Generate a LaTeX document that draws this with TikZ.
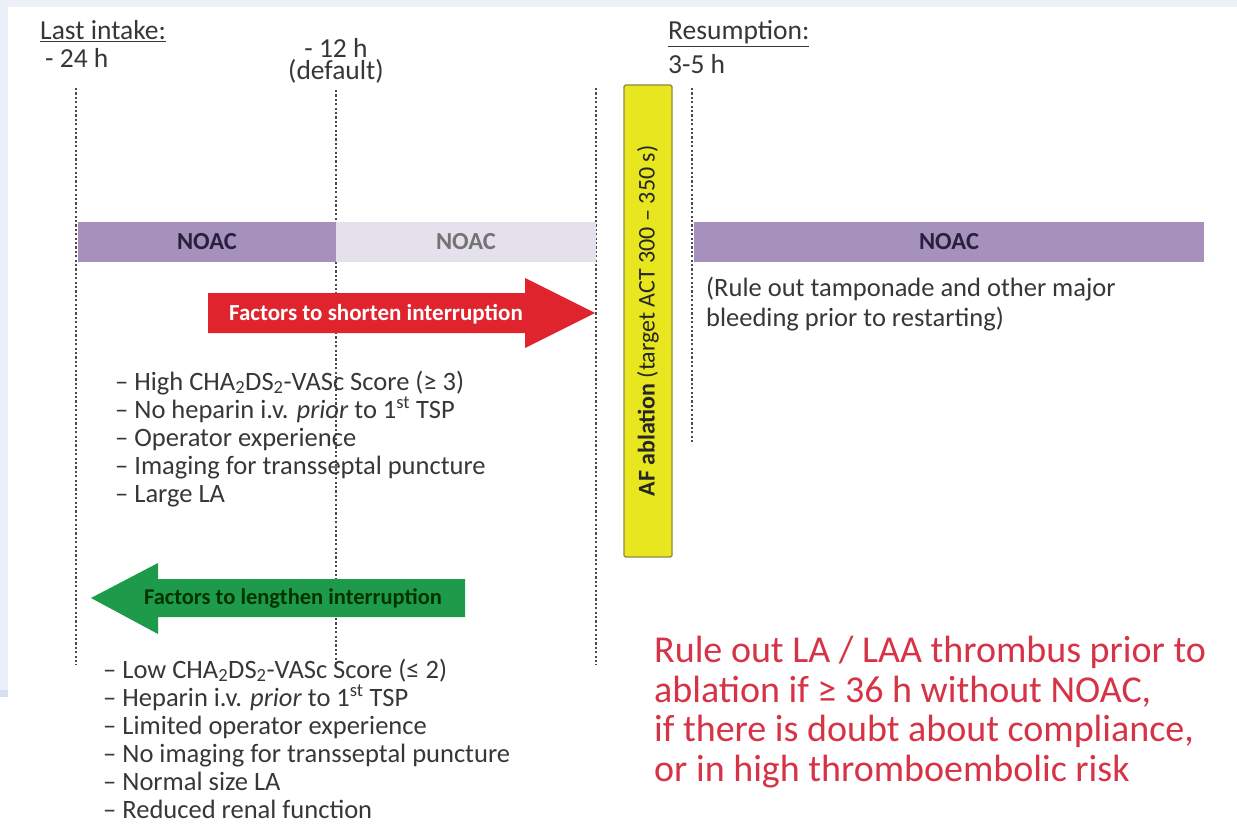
\documentclass[tikz,border=0pt]{standalone}
\usepackage{fontspec}
\setmainfont{Carlito}
\definecolor{txt}{RGB}{55,55,55}
\definecolor{noacdark}{RGB}{165,145,188}
\definecolor{noaclight}{RGB}{228,224,236}
\definecolor{noactxt}{RGB}{40,32,62}
\definecolor{redarr}{RGB}{224,36,46}
\definecolor{greenarr}{RGB}{30,155,74}
\definecolor{yel}{RGB}{232,230,30}
\definecolor{yelborder}{RGB}{140,140,60}
\definecolor{redtxt}{RGB}{214,52,70}
\definecolor{frame}{RGB}{236,240,248}
\definecolor{frame2}{RGB}{218,222,242}
\tikzset{
  vline/.style={draw=txt!90, line width=1.1pt, dash pattern=on 2.2pt off 2.2pt},
  lbl/.style={inner sep=0pt, anchor=base west, text=txt, font=\fontsize{27.5}{30}\selectfont},
  item/.style={inner sep=0pt, anchor=base west, text=txt, font=\fontsize{26.5}{28}\selectfont},
  noacbar/.style={draw=none, inner sep=0pt, minimum height=40pt, font=\bfseries\fontsize{24.5}{26}\selectfont},
}
\begin{document}
\begin{tikzpicture}[x=1pt,y=-1pt]
\useasboundingbox (0,0) rectangle (1237,824);
\fill[white] (0,0) rectangle (1237,824);
% frame
\fill[frame] (0,0) rectangle (1237,7);
\fill[frame] (0,0) rectangle (8,690);
\fill[frame2] (0,690) rectangle (8,697);

% headers
\node[lbl] (last) at (40,40) {\underline{Last intake:}};
\node[lbl] (h24) at (45,68) {- 24 h};
\node[inner sep=0pt, anchor=base, align=center, text=txt, font=\fontsize{27.5}{22}\selectfont] (h12) at (336,80) {- 12 h\\(default)};
\node[lbl] (resum) at (668,40) {\underline{Resumption:}};
\node[lbl] (h35) at (668,74) {3-5 h};

% vertical dotted lines
\coordinate (v1t) at (76,88); \coordinate (v1b) at (76,665);
\coordinate (v2t) at (336,90); \coordinate (v2b) at (336,668);
\coordinate (v3t) at (596,88); \coordinate (v3b) at (596,665);
\coordinate (v4t) at (692,88); \coordinate (v4b) at (692,442);
\draw[vline] (v1t) -- (v1b);
\draw[vline] (v2t) -- (v2b);
\draw[vline] (v3t) -- (v3b);
\draw[vline] (v4t) -- (v4b);

% NOAC bars
\node[noacbar, fill=noacdark, text=noactxt, minimum width=258pt] (noac1) at (207,242) {NOAC};
\node[noacbar, fill=noaclight, text=black!55, minimum width=260pt] (noac2) at (466,242) {NOAC};
\node[noacbar, fill=noacdark, text=noactxt, minimum width=510pt] (noac3) at (949,242) {NOAC};

% AF ablation box
\node[draw=yelborder, fill=yel, line width=1.2pt, rounded corners=1.5pt, minimum width=472pt, minimum height=48pt, inner sep=0pt, rotate=90, text=black!85, font=\fontsize{24}{26}\selectfont] (abl) at (648,321) {\textbf{AF ablation} (target ACT 300 -- 350 s)};

% red arrow
\fill[redarr] (208,293) -- (525,293) -- (525,278) -- (595,313) -- (525,348) -- (525,333) -- (208,333) -- cycle;
\node[inner sep=0pt, text=white, font=\bfseries\fontsize{23}{25}\selectfont] (short) at (376,314) {Factors to shorten interruption};

% green arrow
\fill[greenarr] (465,579) -- (158,579) -- (158,563) -- (91,598) -- (158,634) -- (158,617) -- (465,617) -- cycle;
\node[inner sep=0pt, text=black!80!green, font=\bfseries\fontsize{22.5}{25}\selectfont] (long) at (293,598) {Factors to lengthen interruption};

% rule out tamponade
\node[item] (tamp1) at (706,296) {(Rule out tamponade and other major};
\node[item] (tamp2) at (706,326) {bleeding prior to restarting)};

% list 1
\node[item] (a1) at (115,390) {-- High CHA\textsubscript{2}DS\textsubscript{2}-VASc Score (≥ 3)};
\node[item] (a2) at (115,418) {-- No heparin i.v. \textit{prior} to 1\textsuperscript{st} TSP};
\node[item] (a3) at (115,446) {-- Operator experience};
\node[item] (a4) at (115,474) {-- Imaging for transseptal puncture};
\node[item] (a5) at (115,502) {-- Large LA};

% list 2
\node[item] (b1) at (103,678) {-- Low CHA\textsubscript{2}DS\textsubscript{2}-VASc Score (≤ 2)};
\node[item] (b2) at (103,706) {-- Heparin i.v. \textit{prior} to 1\textsuperscript{st} TSP};
\node[item] (b3) at (103,734) {-- Limited operator experience};
\node[item] (b4) at (103,762) {-- No imaging for transseptal puncture};
\node[item] (b5) at (103,790) {-- Normal size LA};
\node[item] (b6) at (103,818) {-- Reduced renal function};

% red note
\node[inner sep=0pt, anchor=north west, align=left, text=redtxt, font=\fontsize{38}{39.5}\selectfont] (note) at (654,636) {Rule out LA / LAA thrombus prior to\\ablation if ≥ 36 h without NOAC,\\if there is doubt about compliance,\\or in high thromboembolic risk};
\end{tikzpicture}
\end{document}
